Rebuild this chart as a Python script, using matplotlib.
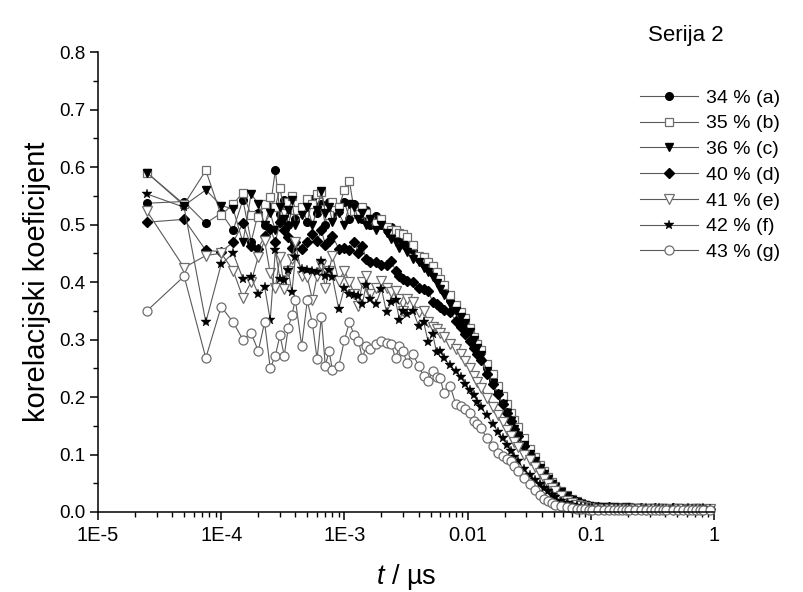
import numpy as np
import matplotlib
matplotlib.use("Agg")
import matplotlib.pyplot as plt
from matplotlib.ticker import FixedLocator, FixedFormatter, LogLocator, NullFormatter, MultipleLocator, FormatStrFormatter

plt.rcParams["font.family"] = ["Liberation Sans", "DejaVu Sans"]
plt.rcParams["mathtext.fontset"] = "custom"
plt.rcParams["mathtext.rm"] = "Liberation Sans"
plt.rcParams["mathtext.it"] = "Liberation Sans:italic"

# correlator sample time (µs) and multi-tau lag channels
TAU_US = 2.5e-5
lag_channels = [
    1, 2, 3, 4, 5, 6, 7, 8, 9, 10, 11, 12, 13, 14, 15, 16,
    18, 20, 22, 24, 26, 28, 30, 32,
    36, 40, 44, 48, 52, 56, 60, 64,
    72, 80, 88, 96, 104, 112, 120, 128,
    144, 160, 176, 192, 208, 224, 240, 256,
    288, 320, 352, 384, 416, 448, 480, 512,
    576, 640, 704, 768, 832, 896, 960, 1024,
    1152, 1280, 1408, 1536, 1664, 1792, 1920, 2048,
    2304, 2560, 2816, 3072, 3328, 3584, 3840, 4096,
    4608, 5120, 5632, 6144, 6656, 7168, 7680, 8192,
    9216, 10240, 11264, 12288, 13312, 14336, 15360, 16384,
    18432, 20480, 22528, 24576, 26624, 28672, 30720, 32768,
    36864,
]

series_labels = ["34 % (a)", "35 % (b)", "36 % (c)", "40 % (d)", "41 % (e)", "42 % (f)", "43 % (g)"]

corr_a = [
    0.537, 0.540, 0.502, 0.520, 0.490, 0.543, 0.470, 0.520, 0.500, 0.530, 0.594, 0.519, 0.542, 0.500, 0.525, 0.510,
    0.530, 0.505, 0.545, 0.520, 0.535, 0.500, 0.540, 0.515,
    0.524, 0.540, 0.510, 0.535, 0.520, 0.510, 0.525, 0.500,
    0.515, 0.500, 0.490, 0.495, 0.480, 0.485, 0.470, 0.465,
    0.455, 0.440, 0.432, 0.425, 0.415, 0.405, 0.398, 0.385,
    0.368, 0.357, 0.345, 0.333, 0.318, 0.305, 0.290, 0.278,
    0.250, 0.230, 0.210, 0.192, 0.177, 0.162, 0.148, 0.136,
    0.120, 0.104, 0.090, 0.078, 0.067, 0.058, 0.050, 0.044,
    0.035, 0.028, 0.022, 0.018, 0.015, 0.013, 0.011, 0.010,
    0.009, 0.009, 0.008, 0.008, 0.007, 0.008, 0.007, 0.007,
    0.007, 0.006, 0.007, 0.006, 0.007, 0.006, 0.006, 0.007,
    0.006, 0.007, 0.006, 0.006, 0.007, 0.006, 0.006, 0.007,
    0.006,
]
corr_b = [
    0.590, 0.535, 0.594, 0.516, 0.536, 0.555, 0.516, 0.513, 0.536, 0.548, 0.530, 0.564, 0.520, 0.540, 0.550, 0.525,
    0.530, 0.545, 0.535, 0.553, 0.556, 0.527, 0.516, 0.540,
    0.530, 0.560, 0.575, 0.524, 0.519, 0.530, 0.520, 0.510,
    0.503, 0.510, 0.495, 0.490, 0.490, 0.485, 0.483, 0.478,
    0.465, 0.446, 0.444, 0.435, 0.428, 0.418, 0.405, 0.395,
    0.378, 0.360, 0.348, 0.337, 0.320, 0.305, 0.292, 0.282,
    0.258, 0.240, 0.220, 0.202, 0.187, 0.172, 0.160, 0.148,
    0.128, 0.110, 0.095, 0.082, 0.071, 0.061, 0.053, 0.046,
    0.037, 0.029, 0.023, 0.019, 0.015, 0.013, 0.011, 0.010,
    0.008, 0.009, 0.008, 0.007, 0.008, 0.007, 0.007, 0.008,
    0.007, 0.007, 0.006, 0.007, 0.006, 0.007, 0.006, 0.006,
    0.007, 0.006, 0.006, 0.007, 0.006, 0.006, 0.007, 0.006,
    0.006,
]
corr_c = [
    0.590, 0.533, 0.560, 0.533, 0.527, 0.469, 0.553, 0.536, 0.500, 0.520, 0.490, 0.530, 0.510, 0.525, 0.542, 0.500,
    0.516, 0.530, 0.500, 0.525, 0.559, 0.520, 0.530, 0.505,
    0.520, 0.500, 0.536, 0.530, 0.510, 0.520, 0.500, 0.510,
    0.490, 0.500, 0.485, 0.475, 0.470, 0.460, 0.465, 0.452,
    0.440, 0.434, 0.425, 0.418, 0.408, 0.398, 0.388, 0.378,
    0.362, 0.350, 0.340, 0.328, 0.313, 0.300, 0.285, 0.273,
    0.245, 0.225, 0.206, 0.188, 0.173, 0.158, 0.145, 0.133,
    0.116, 0.101, 0.088, 0.076, 0.066, 0.057, 0.049, 0.043,
    0.034, 0.027, 0.021, 0.017, 0.014, 0.012, 0.011, 0.009,
    0.008, 0.008, 0.007, 0.008, 0.007, 0.007, 0.008, 0.007,
    0.007, 0.007, 0.006, 0.007, 0.006, 0.006, 0.007, 0.006,
    0.006, 0.007, 0.006, 0.006, 0.006, 0.007, 0.006, 0.006,
    0.006,
]
corr_d = [
    0.504, 0.509, 0.455, 0.453, 0.469, 0.502, 0.463, 0.458, 0.480, 0.492, 0.470, 0.504, 0.490, 0.478, 0.460, 0.470,
    0.458, 0.470, 0.484, 0.472, 0.490, 0.465, 0.472, 0.480,
    0.458, 0.460, 0.455, 0.470, 0.450, 0.463, 0.440, 0.434,
    0.434, 0.429, 0.429, 0.437, 0.420, 0.410, 0.406, 0.402,
    0.400, 0.390, 0.388, 0.385, 0.365, 0.362, 0.356, 0.352,
    0.347, 0.333, 0.322, 0.310, 0.298, 0.286, 0.275, 0.265,
    0.240, 0.222, 0.205, 0.188, 0.173, 0.158, 0.145, 0.133,
    0.114, 0.099, 0.086, 0.075, 0.065, 0.056, 0.049, 0.042,
    0.033, 0.026, 0.021, 0.017, 0.014, 0.012, 0.010, 0.009,
    0.008, 0.007, 0.008, 0.007, 0.007, 0.006, 0.007, 0.007,
    0.006, 0.007, 0.006, 0.006, 0.007, 0.006, 0.006, 0.006,
    0.007, 0.006, 0.006, 0.006, 0.005, 0.006, 0.006, 0.006,
    0.006,
]
corr_e = [
    0.523, 0.425, 0.446, 0.450, 0.420, 0.373, 0.400, 0.444, 0.472, 0.415, 0.390, 0.443, 0.388, 0.420, 0.440, 0.470,
    0.411, 0.408, 0.369, 0.410, 0.430, 0.390, 0.420, 0.446,
    0.402, 0.420, 0.400, 0.380, 0.359, 0.400, 0.410, 0.380,
    0.390, 0.402, 0.390, 0.382, 0.385, 0.370, 0.350, 0.370,
    0.365, 0.347, 0.350, 0.330, 0.321, 0.318, 0.312, 0.305,
    0.293, 0.283, 0.275, 0.262, 0.250, 0.236, 0.226, 0.216,
    0.198, 0.183, 0.168, 0.157, 0.143, 0.133, 0.122, 0.113,
    0.100, 0.090, 0.078, 0.067, 0.058, 0.049, 0.042, 0.036,
    0.027, 0.020, 0.016, 0.012, 0.010, 0.008, 0.007, 0.006,
    0.006, 0.005, 0.006, 0.005, 0.005, 0.006, 0.005, 0.005,
    0.005, 0.005, 0.004, 0.005, 0.005, 0.004, 0.005, 0.005,
    0.004, 0.005, 0.005, 0.004, 0.005, 0.004, 0.005, 0.004,
    0.005,
]
corr_f = [
    0.553, 0.530, 0.330, 0.431, 0.450, 0.406, 0.408, 0.379, 0.392, 0.334, 0.455, 0.405, 0.404, 0.421, 0.382, 0.443,
    0.423, 0.421, 0.420, 0.417, 0.436, 0.410, 0.421, 0.408,
    0.353, 0.390, 0.380, 0.378, 0.376, 0.362, 0.395, 0.370,
    0.362, 0.388, 0.347, 0.365, 0.368, 0.334, 0.350, 0.345,
    0.350, 0.324, 0.330, 0.295, 0.310, 0.278, 0.280, 0.268,
    0.255, 0.245, 0.235, 0.222, 0.212, 0.204, 0.192, 0.182,
    0.168, 0.153, 0.140, 0.128, 0.117, 0.106, 0.095, 0.088,
    0.074, 0.065, 0.056, 0.048, 0.042, 0.037, 0.030, 0.026,
    0.019, 0.015, 0.012, 0.010, 0.009, 0.008, 0.007, 0.007,
    0.006, 0.007, 0.006, 0.006, 0.007, 0.006, 0.006, 0.007,
    0.006, 0.006, 0.007, 0.006, 0.006, 0.007, 0.006, 0.006,
    0.007, 0.006, 0.006, 0.007, 0.006, 0.006, 0.006, 0.007,
    0.006,
]
corr_g = [
    0.350, 0.410, 0.268, 0.357, 0.330, 0.300, 0.311, 0.280, 0.330, 0.250, 0.272, 0.307, 0.272, 0.320, 0.343, 0.369,
    0.289, 0.368, 0.328, 0.266, 0.339, 0.254, 0.280, 0.247,
    0.254, 0.299, 0.330, 0.307, 0.298, 0.267, 0.289, 0.284,
    0.293, 0.298, 0.294, 0.293, 0.267, 0.289, 0.280, 0.260,
    0.275, 0.254, 0.237, 0.228, 0.246, 0.234, 0.233, 0.207,
    0.220, 0.188, 0.185, 0.180, 0.172, 0.158, 0.153, 0.146,
    0.128, 0.115, 0.103, 0.097, 0.092, 0.088, 0.080, 0.072,
    0.060, 0.048, 0.038, 0.030, 0.023, 0.019, 0.016, 0.013,
    0.010, 0.008, 0.007, 0.006, 0.005, 0.005, 0.004, 0.004,
    0.004, 0.003, 0.004, 0.003, 0.004, 0.003, 0.003, 0.004,
    0.003, 0.004, 0.003, 0.003, 0.004, 0.003, 0.003, 0.003,
    0.004, 0.003, 0.003, 0.004, 0.003, 0.003, 0.004, 0.003,
    0.003,
]

x_tick_values = [1e-5, 1e-4, 1e-3, 1e-2, 1e-1, 1.0]
x_tick_labels = ["1E-5", "1E-4", "1E-3", "0.01", "0.1", "1"]

LINE = "#5a5a5a"
EDGE = "#6e6e6e"
styles = [
    dict(marker="o", ms=5.5, mfc="black", mec="black"),
    dict(marker="s", ms=5.5, mfc="white", mec=EDGE, mew=0.9),
    dict(marker="v", ms=6.0, mfc="black", mec="black"),
    dict(marker="D", ms=4.8, mfc="black", mec="black"),
    dict(marker="v", ms=7.0, mfc="white", mec=EDGE, mew=0.9),
    dict(marker="*", ms=7.5, mfc="black", mec="black", mew=0.3),
    dict(marker="o", ms=6.5, mfc="white", mec=EDGE, mew=0.9),
]
series = [corr_a, corr_b, corr_c, corr_d, corr_e, corr_f, corr_g]

fig = plt.figure(figsize=(8.04, 5.92), dpi=100)
ax = fig.add_axes([98 / 804, 1 - 512 / 592, 616 / 804, 460 / 592])

t = np.array(lag_channels, dtype=float) * TAU_US
handles = []
for vals, st, lab in zip(series, styles, series_labels):
    (ln,) = ax.plot(t, vals, color=LINE, lw=0.8, clip_on=False, label=lab, **st)
    handles.append(ln)

ax.set_xscale("log")
ax.set_xlim(1e-5, 1.0)
ax.set_ylim(0.0, 0.8)

for side in ("top", "right"):
    ax.spines[side].set_visible(False)
for side in ("left", "bottom"):
    ax.spines[side].set_linewidth(1.1)

ax.xaxis.set_major_locator(FixedLocator(x_tick_values))
ax.xaxis.set_major_formatter(FixedFormatter(x_tick_labels))
ax.xaxis.set_minor_locator(LogLocator(base=10, subs=np.arange(2, 10)))
ax.xaxis.set_minor_formatter(NullFormatter())
ax.yaxis.set_major_locator(MultipleLocator(0.1))
ax.yaxis.set_minor_locator(MultipleLocator(0.05))
ax.yaxis.set_major_formatter(FormatStrFormatter("%.1f"))

ax.tick_params(which="major", direction="out", length=6, width=1.1, pad=3)
ax.tick_params(which="minor", direction="out", length=3.5, width=1.0)
ax.tick_params(axis="x", which="major", labelsize=14.5, pad=4)
ax.tick_params(axis="y", which="major", labelsize=13.5)

ax.set_ylabel("korelacijski koeficijent", fontsize=21, labelpad=6)
ax.set_xlabel(r"$t$ / µs", fontsize=19.5, labelpad=12)

fig.legend(handles=handles, labels=series_labels, loc="upper left",
           bbox_to_anchor=(640 / 804, 1 - 89 / 592), frameon=False, fontsize=14,
           handlelength=3.0, handletextpad=0.4, labelspacing=0.42,
           borderpad=0, borderaxespad=0, numpoints=1)
fig.text(648 / 804, 1 - 35 / 592, "Serija 2", fontsize=16, ha="left", va="center")

fig.savefig("out.png", dpi=100)
